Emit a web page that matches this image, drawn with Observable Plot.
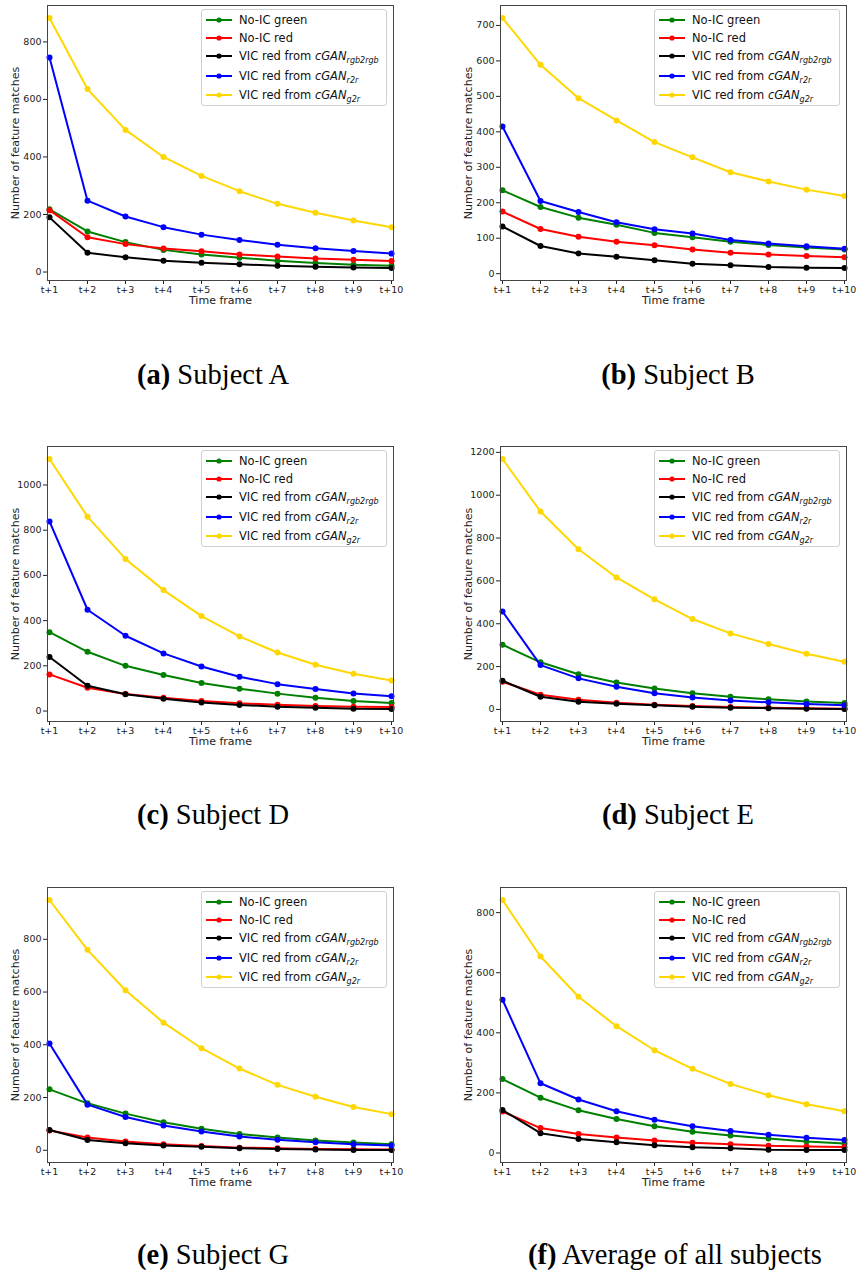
<!DOCTYPE html>
<html><head><meta charset="utf-8">
<script src="https://cdn.jsdelivr.net/npm/d3@7"></script>
<script src="https://cdn.jsdelivr.net/npm/@observablehq/plot@0.6"></script>
<style>
body{margin:0;background:#fff;}
#root{position:relative;width:858px;height:1278px;overflow:hidden;background:#fff;font-family:"DejaVu Sans",sans-serif;}
.panel{position:absolute;}
.legend{position:absolute;width:186px;height:97px;border:1px solid #d0d0d0;border-radius:3px;background:rgba(255,255,255,0.85);box-sizing:border-box;}
.lrow{position:absolute;left:0;height:16px;width:186px;}
.lrow svg{position:absolute;left:3px;top:0;}
.lrow span{position:absolute;left:37px;top:0;line-height:16px;font-size:11.5px;color:#111;white-space:nowrap;}
.lrow i{font-style:oblique;}
.lrow sub{font-size:8px;vertical-align:-3px;line-height:0;font-style:oblique;}
.caption{position:absolute;font-family:"Liberation Serif","Times New Roman",serif;font-size:28.5px;line-height:33px;color:#000;white-space:nowrap;transform:translateX(-50%);}
</style>
</head><body><div id="root"></div>
<script>
const timeFrames = ["t+1","t+2","t+3","t+4","t+5","t+6","t+7","t+8","t+9","t+10"];
const seriesLabels = ["No-IC green","No-IC red","VIC red from <i>cGAN</i><sub>rgb2rgb</sub>","VIC red from <i>cGAN</i><sub>r2r</sub>","VIC red from <i>cGAN</i><sub>g2r</sub>"];
const seriesColors = ["#008000","#ff0000","#000000","#0000ff","#ffd700"];

// Subject A
const A_noicGreen = [218,141,104,77,61,50,39,31,25,22];
const A_noicRed   = [215,121,97,82,72,61,54,47,43,38];
const A_vicRgb2rgb= [190,67,51,39,32,27,22,18,16,14];
const A_vicR2r    = [746,248,193,156,130,111,95,83,73,64];
const A_vicG2r    = [883,636,494,400,334,281,237,206,179,156];
const A_ticks = [0,200,400,600,800];
// Subject B
const B_noicGreen = [235,188,158,138,115,103,90,81,74,68];
const B_noicRed   = [175,126,104,90,80,68,59,54,50,46];
const B_vicRgb2rgb= [133,78,57,48,38,28,24,19,17,16];
const B_vicR2r    = [415,205,174,145,125,113,95,85,77,70];
const B_vicG2r    = [721,589,495,432,371,328,286,260,237,219];
const B_ticks = [0,100,200,300,400,500,600,700];
// Subject D
const D_noicGreen = [349,262,200,159,124,99,77,59,44,35];
const D_noicRed   = [162,103,75,59,44,34,28,22,19,18];
const D_vicRgb2rgb= [239,112,74,54,38,27,19,15,10,9];
const D_vicR2r    = [839,448,333,255,197,152,119,97,78,65];
const D_vicG2r    = [1115,860,673,535,420,330,259,205,165,135];
const D_ticks = [0,200,400,600,800,1000];
// Subject E
const E_noicGreen = [302,220,164,126,98,75,59,47,37,30];
const E_noicRed   = [129,69,45,31,22,16,11,8,5,3];
const E_vicRgb2rgb= [134,59,36,26,19,12,8,6,3,2];
const E_vicR2r    = [457,207,145,106,76,56,42,33,25,19];
const E_vicG2r    = [1169,924,748,616,514,422,355,305,260,223];
const E_ticks = [0,200,400,600,800,1000,1200];
// Subject G
const G_noicGreen = [231,178,139,106,82,62,48,37,29,23];
const G_noicRed   = [75,48,33,23,16,10,8,5,4,3];
const G_vicRgb2rgb= [77,39,27,18,13,8,5,3,1,1];
const G_vicR2r    = [405,173,126,94,71,52,40,30,23,18];
const G_vicG2r    = [949,760,607,484,387,310,248,203,164,137];
const G_ticks = [0,200,400,600,800];
// Average of all subjects
const F_noicGreen = [246,184,142,113,89,71,58,48,38,32];
const F_noicRed   = [138,83,63,52,42,34,29,24,22,20];
const F_vicRgb2rgb= [143,66,47,36,26,19,16,11,10,10];
const F_vicR2r    = [510,232,178,139,111,89,73,61,51,43];
const F_vicG2r    = [842,654,520,422,342,280,230,192,162,139];
const F_ticks = [0,200,400,600,800];

const panels = [
  {tag:"(a)", name:"Subject A", series:[A_noicGreen,A_noicRed,A_vicRgb2rgb,A_vicR2r,A_vicG2r], ticks:A_ticks, left:0, top:0, capX:213, capY:358},
  {tag:"(b)", name:"Subject B", series:[B_noicGreen,B_noicRed,B_vicRgb2rgb,B_vicR2r,B_vicG2r], ticks:B_ticks, left:453, top:0, capX:678, capY:358},
  {tag:"(c)", name:"Subject D", series:[D_noicGreen,D_noicRed,D_vicRgb2rgb,D_vicR2r,D_vicG2r], ticks:D_ticks, left:0, top:441, capX:213, capY:798},
  {tag:"(d)", name:"Subject E", series:[E_noicGreen,E_noicRed,E_vicRgb2rgb,E_vicR2r,E_vicG2r], ticks:E_ticks, left:453, top:441, capX:678, capY:798},
  {tag:"(e)", name:"Subject G", series:[G_noicGreen,G_noicRed,G_vicRgb2rgb,G_vicR2r,G_vicG2r], ticks:G_ticks, left:0, top:882, capX:213, capY:1238},
  {tag:"(f)", name:"Average of all subjects", series:[F_noicGreen,F_noicRed,F_vicRgb2rgb,F_vicR2r,F_vicG2r], ticks:F_ticks, left:453, top:882, capX:675, capY:1238}
];

const root = document.getElementById("root");
const frameW = 346, frameH = 275, mL = 47, mT = 5;

for (const p of panels) {
  const rows = [];
  p.series.forEach((vals, si) => vals.forEach((v, i) => rows.push({t: timeFrames[i], v, s: si})));
  const all = rows.map(d => d.v);
  const mn = d3.min(all), mx = d3.max(all), pad = 0.05 * (mx - mn);
  const marks = [];
  p.series.forEach((vals, si) => {
    const data = rows.filter(d => d.s === si);
    marks.push(Plot.line(data, {x: "t", y: "v", stroke: seriesColors[si], strokeWidth: 2}));
    marks.push(Plot.dot(data, {x: "t", y: "v", fill: seriesColors[si], r: 3}));
  });
  const chart = Plot.plot({
    width: 405, height: 315,
    marginLeft: mL, marginRight: 405 - mL - frameW, marginTop: mT, marginBottom: 315 - mT - frameH,
    style: {fontFamily: "DejaVu Sans", fontSize: "9.5px", color: "#222", background: "transparent", overflow: "visible"},
    x: {type: "point", domain: timeFrames, padding: 0},
    y: {domain: [mn - pad, mx + pad]},
    marks: [
      Plot.axisX({tickSize: 4, tickPadding: 1.5, label: null, fontSize: 9.5}),
      Plot.axisY({ticks: p.ticks, tickFormat: d3.format("d"), tickSize: 4, tickPadding: 2, label: null, fontSize: 9.5}),
      ...marks,
      Plot.frame({stroke: "#444", strokeWidth: 1}),
      Plot.text(["Time frame"], {frameAnchor: "bottom", lineAnchor: "middle", dy: 20, fontSize: 11, fill: "#222"}),
      Plot.text(["Number of feature matches"], {frameAnchor: "left", textAnchor: "middle", lineAnchor: "middle", dx: -32, rotate: -90, fontSize: 11, fill: "#222"})
    ]
  });
  const wrap = document.createElement("div");
  wrap.className = "panel";
  wrap.style.left = p.left + "px";
  wrap.style.top = p.top + "px";
  wrap.appendChild(chart);
  root.appendChild(wrap);

  // legend
  const lg = document.createElement("div");
  lg.className = "legend";
  lg.style.left = (p.left + mL + frameW - 6 - 186) + "px";
  lg.style.top = (p.top + mT + 4) + "px";
  const rowCenters = [10, 28, 46, 66, 85];
  seriesLabels.forEach((lab, i) => {
    const r = document.createElement("div");
    r.className = "lrow";
    r.style.top = (rowCenters[i] - 8) + "px";
    r.innerHTML = `<svg width="28" height="16"><line x1="1" x2="27" y1="8" y2="8" stroke="${seriesColors[i]}" stroke-width="2"/><circle cx="14" cy="8" r="2.6" fill="${seriesColors[i]}"/></svg><span>${lab}</span>`;
    lg.appendChild(r);
  });
  root.appendChild(lg);

  // caption
  const cap = document.createElement("div");
  cap.className = "caption";
  cap.style.left = p.capX + "px";
  cap.style.top = p.capY + "px";
  cap.innerHTML = `<b>${p.tag}</b> ${p.name}`;
  root.appendChild(cap);
}
</script>
</body></html>
